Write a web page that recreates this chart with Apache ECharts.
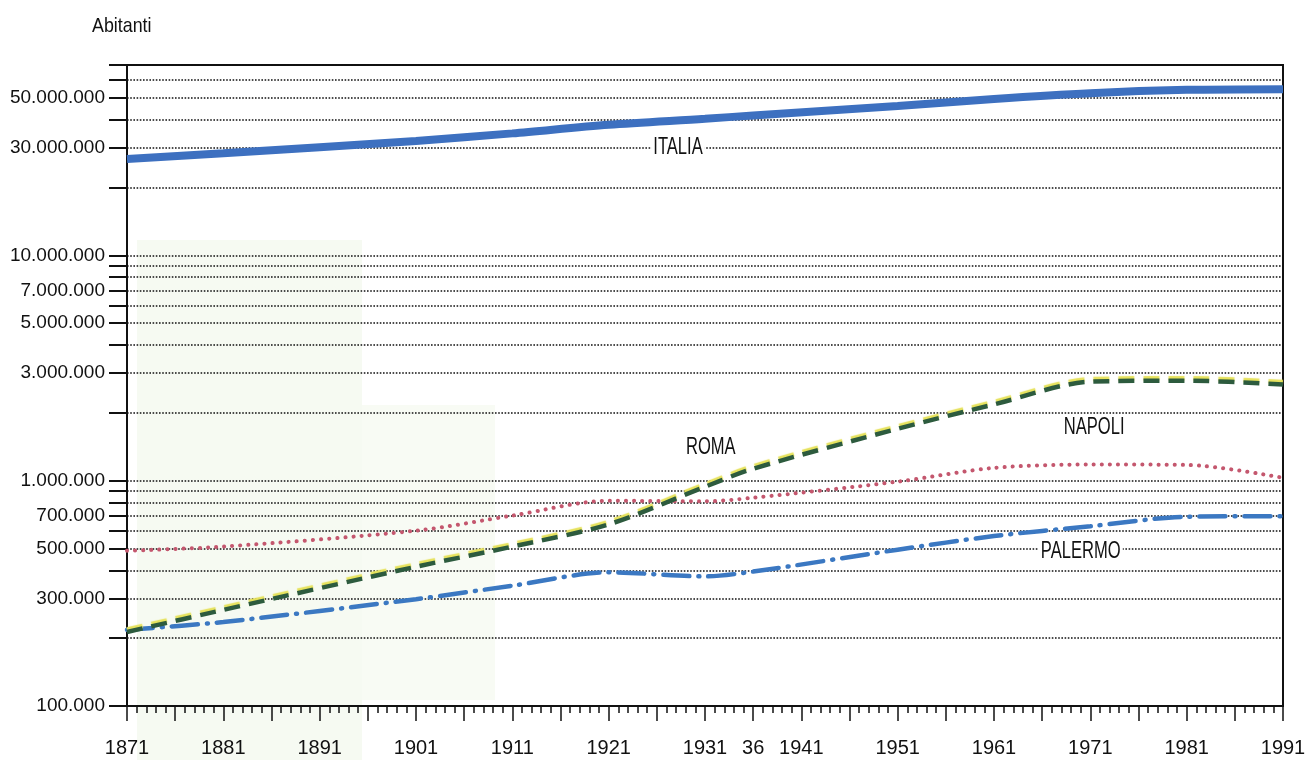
<!DOCTYPE html>
<html><head><meta charset="utf-8">
<script src="https://cdn.jsdelivr.net/npm/echarts@6/dist/echarts.min.js"></script>
<style>html,body{margin:0;padding:0;background:#fff}#c{width:1315px;height:760px}</style>
</head><body><div id="c"></div>
<script>
// Census years and populations
const years   = [1871, 1881, 1901, 1911, 1921, 1931, 1936, 1951, 1961, 1971, 1981, 1991];
const italia  = [26800000, 28400000, 32200000, 34800000, 38000000, 40400000, 41800000, 46000000, 49500000, 52500000, 54300000, 54700000];
const roma    = [213000, 267000, 415000, 510000, 640000, 940000, 1130000, 1700000, 2180000, 2750000, 2780000, 2670000];
const napoli  = [489000, 510000, 600000, 700000, 815000, 810000, 840000, 990000, 1140000, 1180000, 1175000, 1030000];
const palermo = [218000, 236000, 298000, 342000, 392000, 376000, 395000, 494000, 568000, 628000, 692000, 696000];

const yTickValues = [100000,200000,300000,400000,500000,600000,700000,800000,900000,
  1000000,2000000,3000000,4000000,5000000,6000000,7000000,8000000,9000000,
  10000000,20000000,30000000,40000000,50000000,60000000,70000000];
const yLabelValues = [100000,300000,500000,700000,1000000,3000000,5000000,7000000,10000000,30000000,50000000];
const xLabelValues = [1871,1881,1891,1901,1911,1921,1931,1936,1941,1951,1961,1971,1981,1991];
const xMajorTicks = [1871,1876,1881,1886,1891,1896,1901,1906,1911,1916,1921,1926,1931,1936,1941,1946,1951,1956,1961,1966,1971,1976,1981,1986,1991];

const labelNames  = ['ITALIA', 'ROMA', 'NAPOLI', 'PALERMO'];
const labelYears  = [1928.2, 1931.6, 1971.4, 1970.0];
const labelValues = [30000000, 1400000, 1720000, 484000];

const FONT = '"Liberation Sans", Arial, sans-serif';
const fmt = v => String(Math.round(v)).replace(/\B(?=(\d{3})+(?!\d))/g, '.');
const pairs = arr => years.map((y, i) => [y, arr[i]]);

const bgRects = [
  {type: 'rect', z: -10, shape: {x: 137, y: 240, width: 225, height: 520}, style: {fill: 'rgba(215,232,195,0.22)'}},
  {type: 'rect', z: -10, shape: {x: 362, y: 405, width: 133, height: 295}, style: {fill: 'rgba(215,232,195,0.18)'}},
  {type: 'text', x: 92, y: 16, scaleX: 0.85, style: {text: 'Abitanti', fontSize: 21, fontFamily: FONT, fill: '#111'}}
];

const chart = echarts.init(document.getElementById('c'), null, {renderer: 'canvas'});
chart.setOption({
  animation: false,
  backgroundColor: '#ffffff',
  graphic: bgRects,
  grid: {left: 127, right: 32, top: 65, bottom: 54, containLabel: false, outerBoundsMode: 'none',
    show: true, borderColor: '#111', borderWidth: 2, backgroundColor: 'transparent'},
  xAxis: [
    {
      type: 'value', min: 1871, max: 1991, interval: 1,
      axisLine: {show: true, lineStyle: {color: '#111', width: 2}},
      axisTick: {show: true, length: 7, lineStyle: {color: '#111', width: 1.5}},
      axisLabel: {show: false},
      splitLine: {show: false}
    },
    {
      type: 'value', min: 1871, max: 1991, position: 'bottom',
      axisLine: {show: false},
      axisTick: {show: true, customValues: xMajorTicks, length: 15, lineStyle: {color: '#111', width: 1.5}},
      axisLabel: {show: true, customValues: xLabelValues, margin: 32, color: '#111', fontSize: 20, fontFamily: FONT,
        formatter: v => (v === 1936 ? '36' : String(v))},
      splitLine: {show: false}
    }
  ],
  yAxis: {
    type: 'log', logBase: 10, min: 100000, max: 70000000,
    axisLine: {show: true, lineStyle: {color: '#111', width: 2}},
    axisTick: {show: true, customValues: yTickValues, length: 18, lineStyle: {color: '#111', width: 2}},
    axisLabel: {show: true, customValues: yLabelValues, margin: 22, color: '#111', fontSize: 19, fontFamily: FONT, formatter: v => fmt(v)},
    splitLine: {show: true, lineStyle: {color: '#111', width: 1.5, type: [1.6, 1.6]}},
    minorTick: {show: false}, minorSplitLine: {show: false}
  },
  series: [
    {name: 'Italia', type: 'line', data: pairs(italia), smooth: 0.3, symbol: 'none', z: 5,
      lineStyle: {color: '#3d70c0', width: 8}},
    {name: 'Roma', type: 'line', data: pairs(roma), smooth: 0.3, symbol: 'none', z: 6,
      lineStyle: {color: '#2d5b3e', width: 4.5, type: [16, 9], cap: 'butt',
        shadowColor: '#e6e25c', shadowBlur: 1, shadowOffsetY: -2.5}},
    {name: 'Napoli', type: 'line', data: pairs(napoli), smooth: 0.3, symbol: 'none', z: 4,
      lineStyle: {color: '#c4576e', width: 4, type: [0.1, 8], cap: 'round'}},
    {name: 'Palermo', type: 'line', data: pairs(palermo), smooth: 0.3, symbol: 'none', z: 4,
      lineStyle: {color: '#3b78c2', width: 4.5, type: [26, 9, 1, 9], cap: 'round'}}
  ]
});

// Annotation labels positioned through the chart's own scales
const labelGraphics = labelNames.map((n, i) => {
  const p = chart.convertToPixel({gridIndex: 0}, [labelYears[i], labelValues[i]]);
  return {type: 'text', x: p[0], y: p[1], scaleX: 0.72, z: 20,
    style: {text: n, fontSize: 23, fontFamily: FONT, fill: '#111', align: 'center', verticalAlign: 'middle',
      backgroundColor: '#fff', padding: [0, 3]}};
});
chart.setOption({graphic: bgRects.concat(labelGraphics)});
</script></body></html>
